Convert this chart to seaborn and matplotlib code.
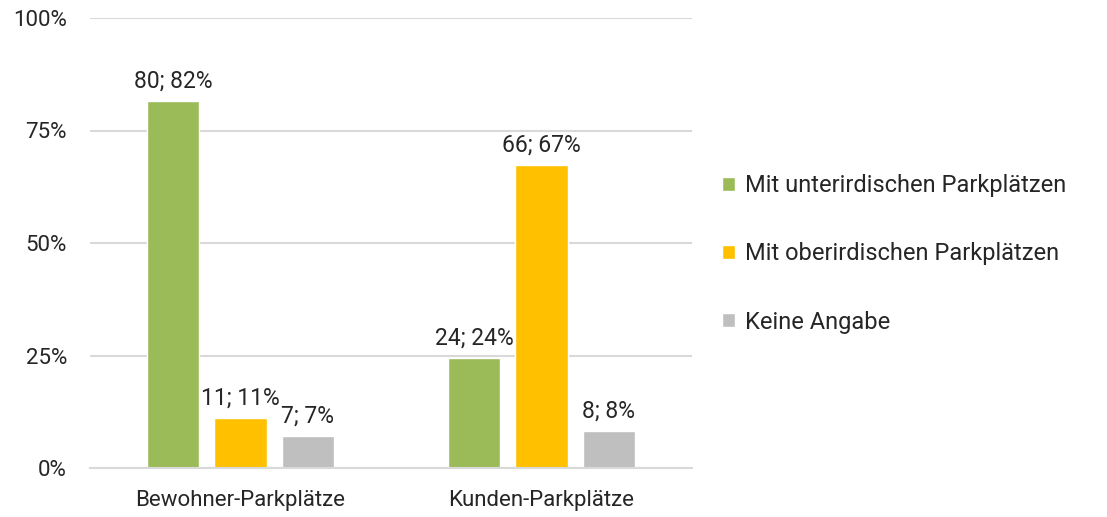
import pandas as pd
import matplotlib.pyplot as plt
import seaborn as sns

# -----------------------
# Data
# -----------------------
groups = ["Bewohner-Parkplätze", "Kunden-Parkplätze"]
series = ["Mit unterirdischen Parkplätzen", "Mit oberirdischen Parkplätzen", "Keine Angabe"]
counts_bewohner = [80, 11, 7]
counts_kunden = [24, 66, 8]
pct_bewohner = [81.6, 11.2, 7.1]
pct_kunden = [24.5, 67.3, 8.2]
pct_labels_bewohner = ["82%", "11%", "7%"]
pct_labels_kunden = ["24%", "67%", "8%"]
colors = ["#9BBB59", "#FFC000", "#BFBFBF"]

rows = []
for grp, cnts, pcts, labs in [
    (groups[0], counts_bewohner, pct_bewohner, pct_labels_bewohner),
    (groups[1], counts_kunden, pct_kunden, pct_labels_kunden),
]:
    for s, c, p, l in zip(series, cnts, pcts, labs):
        rows.append({"Gruppe": grp, "Serie": s, "Anzahl": c, "Prozent": p, "Label": f"{c}; {l}"})
df = pd.DataFrame(rows)

# -----------------------
# Plot
# -----------------------
sns.set_style("white")
plt.rcParams["font.family"] = ["Roboto", "DejaVu Sans"]
text_color = "#262626"

fig = plt.figure(figsize=(11.07, 5.17), dpi=100)
ax = fig.add_axes([90 / 1107, 49 / 517, 602 / 1107, 450 / 517])

sns.barplot(data=df, x="Gruppe", y="Prozent", hue="Serie", palette=colors,
            width=0.668, gap=0.224, ax=ax, saturation=1, legend=True)

ax.set_ylim(0, 100)
ax.set_xlim(-0.5, 1.5)
ax.set_yticks([0, 25, 50, 75, 100])
ax.set_yticklabels(["0%", "25%", "50%", "75%", "100%"])
ax.yaxis.grid(True, color="#D9D9D9", linewidth=1.5)
ax.set_axisbelow(True)
ax.set_xlabel("")
ax.set_ylabel("")
for side in ["top", "right", "left"]:
    ax.spines[side].set_visible(False)
ax.spines["bottom"].set_color("#D9D9D9")
ax.spines["bottom"].set_linewidth(1.5)
ax.tick_params(axis="y", length=0, pad=16.5, labelsize=16, labelcolor=text_color)
ax.tick_params(axis="x", length=0, pad=16, labelsize=16, labelcolor=text_color)

for container, s in zip(ax.containers, series):
    labels = df[df["Serie"] == s]["Label"].tolist()
    ax.bar_label(container, labels=labels, padding=6, fontsize=16.5, color=text_color)

handles, labels = ax.get_legend_handles_labels()
ax.legend(handles, labels, loc="center left", bbox_to_anchor=(1.015, 0.476),
          frameon=False, fontsize=17, handlelength=0.55, handleheight=0.55,
          handletextpad=0.42, labelspacing=1.92, labelcolor=text_color)

plt.savefig("out.png", dpi=100)
